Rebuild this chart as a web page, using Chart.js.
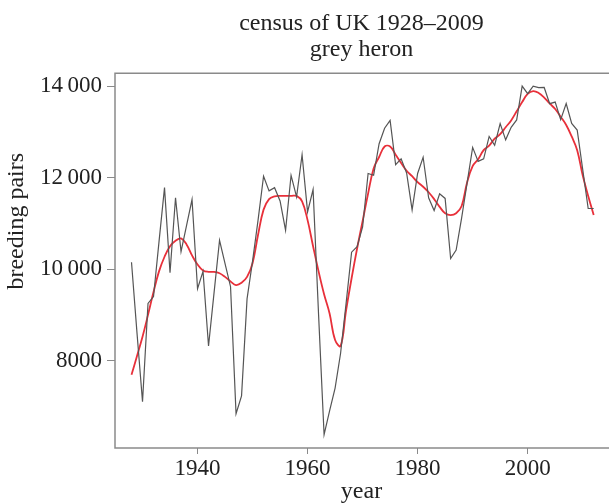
<!DOCTYPE html>
<html>
<head>
<meta charset="utf-8">
<script src="https://cdn.jsdelivr.net/npm/chart.js@4.4.1/dist/chart.umd.min.js"></script>
<style>
  html, body { margin: 0; padding: 0; background: #fff; }
  #wrap { width: 609px; height: 504px; }
</style>
</head>
<body>
<div id="wrap"><canvas id="heronChart"></canvas></div>
<script>
// census years 1928-2012
const years = [];
for (let y = 1928; y <= 2012; y++) years.push(y);

// annual counts (grey line)
const breedingPairs = [
  10150, 8600, 7100, 9250, 9400, 10600, 11780, 9920, 11560, 10380,
  10950, 11520, 9570, 9950, 8320, 9480, 10630, 10120, 9615, 6840,
  7230, 9350, 10175, 11070, 12030, 11710, 11780, 11490, 10850, 12050,
  11580, 12500, 11250, 11740, 9000, 6380, 6900, 7400, 8160, 9250,
  10370, 10490, 10920, 12090, 12050, 12740, 13080, 13250, 12285, 12410,
  12100, 11295, 12090, 12445, 11560, 11280, 11645, 11545, 10230, 10416,
  11120, 11890, 12660, 12355, 12410, 12900, 12707, 13180, 12825, 13100,
  13260, 14000, 13835, 14000, 13965, 13970, 13616, 13650, 13267, 13620,
  13185, 13040, 12180, 11325, 11325
];

// smoothed trend (red line)
const trend = [
  7690, 8100, 8520, 9000, 9500, 9950, 10270, 10500, 10620, 10670,
  10540, 10300, 10100, 9970, 9940, 9940, 9910, 9830, 9730, 9650,
  9700, 9830, 10130, 10750, 11300, 11530, 11590, 11600, 11600, 11600,
  11600, 11480, 11070, 10500, 9950, 9450, 9030, 8450, 8320, 9100,
  9800, 10450, 11050, 11650, 12200, 12450, 12680, 12680, 12500, 12320,
  12150, 12030, 11900, 11800, 11680, 11530, 11360, 11220, 11180, 11220,
  11380, 11900, 12250, 12400, 12600, 12700, 12850, 12950, 13100, 13250,
  13450, 13650, 13830, 13890, 13850, 13750, 13620, 13500, 13330, 13150,
  12900, 12600, 12050, 11600, 11180
];

const xTicks = [1940, 1960, 1980, 2000];
const yTicks = [8000, 10000, 12000, 14000];

const serif = "'Liberation Serif', 'DejaVu Serif', serif";
const frameColor = '#8a8a8a';

// box round the plot area (left, top, bottom)
const framePlugin = {
  id: 'frame',
  afterDraw(chart) {
    const a = chart.chartArea;
    const ctx = chart.ctx;
    ctx.save();
    ctx.strokeStyle = frameColor;
    ctx.lineWidth = 1.5;
    ctx.beginPath();
    ctx.moveTo(chart.width, a.top);
    ctx.lineTo(a.left, a.top);
    ctx.lineTo(a.left, a.bottom);
    ctx.lineTo(chart.width, a.bottom);
    ctx.stroke();
    // y axis title sits a bit above the middle
    ctx.fillStyle = '#222';
    ctx.font = "24px " + serif;
    ctx.textAlign = 'center';
    ctx.textBaseline = 'middle';
    ctx.translate(17, a.top + 148);
    ctx.rotate(-Math.PI / 2);
    ctx.fillText('breeding pairs', 0, 0);
    ctx.restore();
  }
};

function fmt(v) {
  if (v >= 10000) {
    const s = String(v);
    return s.slice(0, s.length - 3) + '\u2009' + s.slice(-3);
  }
  return String(v);
}

const ctx = document.getElementById('heronChart').getContext('2d');
new Chart(ctx, {
  type: 'line',
  data: {
    datasets: [
      {
        label: 'census',
        data: years.map((y, i) => ({ x: y, y: breedingPairs[i] })),
        borderColor: '#555555',
        borderWidth: 1.2,
        pointRadius: 0,
        tension: 0
      },
      {
        label: 'trend',
        data: years.map((y, i) => ({ x: y, y: trend[i] })),
        borderColor: '#e8303a',
        borderWidth: 1.8,
        pointRadius: 0,
        tension: 0.4
      }
    ]
  },
  options: {
    responsive: true,
    maintainAspectRatio: false,
    animation: false,
    layout: { padding: { left: 0, right: 1, top: 0, bottom: 0 } },
    plugins: {
      legend: { display: false },
      tooltip: { enabled: false },
      title: {
        display: true,
        fullSize: false,
        text: ['census of UK 1928\u20132009', 'grey heron'],
        color: '#222',
        font: { family: serif, size: 24, weight: 'normal', lineHeight: 1.11 },
        padding: { top: 10, bottom: 10 }
      }
    },
    scales: {
      x: {
        type: 'linear',
        min: 1925,
        max: 2014.6,
        afterBuildTicks: s => { s.ticks = xTicks.map(v => ({ value: v })); },
        afterFit: s => { s.height = 56; },
        grid: { drawOnChartArea: false, drawTicks: true, tickLength: 6, color: frameColor },
        border: { display: false },
        ticks: {
          color: '#222',
          padding: 1,
          maxRotation: 0,
          font: { family: serif, size: 23 },
          callback: v => String(v)
        },
        title: {
          display: true,
          text: 'year',
          color: '#222',
          font: { family: serif, size: 24, lineHeight: 1 },
          padding: { top: 0, bottom: 0 }
        }
      },
      y: {
        min: 6090,
        max: 14280,
        afterBuildTicks: s => { s.ticks = yTicks.map(v => ({ value: v })); },
        afterFit: s => { s.width = 115; },
        grid: { drawOnChartArea: false, drawTicks: true, tickLength: 8, color: frameColor },
        border: { display: false },
        ticks: {
          color: '#222',
          padding: 5,
          font: { family: serif, size: 23 },
          callback: v => fmt(v)
        }
      }
    }
  },
  plugins: [framePlugin]
});
</script>
</body>
</html>
